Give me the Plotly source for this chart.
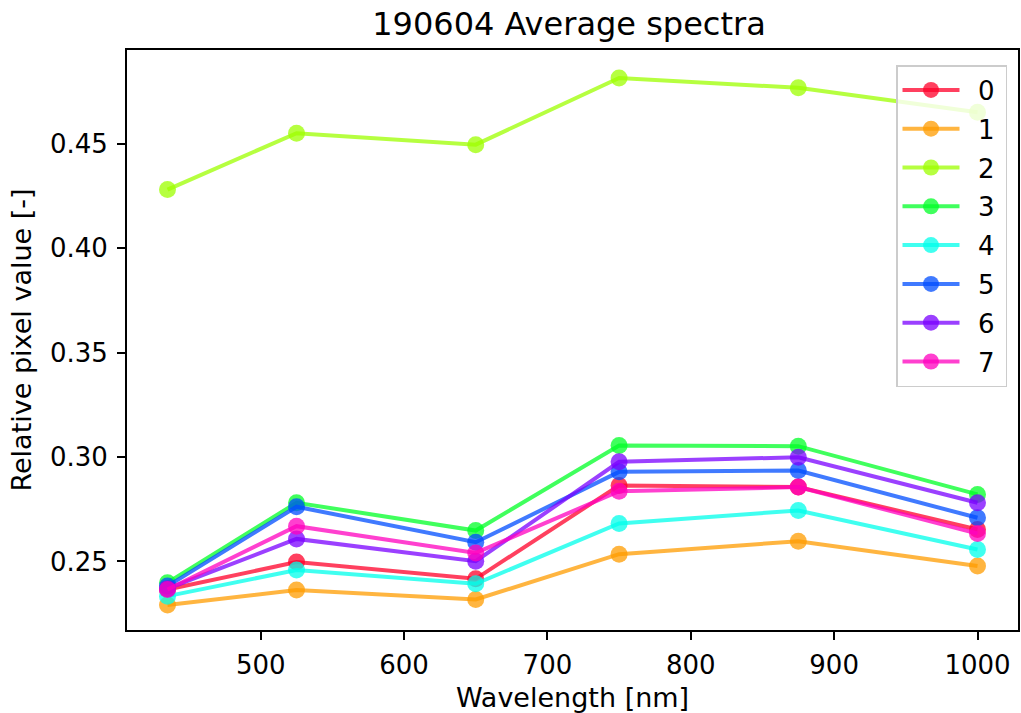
import plotly.graph_objects as go

wavelengths = [435, 525, 650, 750, 875, 1000]
labels = ["0", "1", "2", "3", "4", "5", "6", "7"]
s0 = [0.2366, 0.2497, 0.2417, 0.2864, 0.2856, 0.2653]
s1 = [0.2292, 0.2363, 0.2318, 0.2535, 0.2597, 0.2478]
s2 = [0.4280, 0.4550, 0.4495, 0.4814, 0.4767, 0.4650]
s3 = [0.2398, 0.2781, 0.2648, 0.3055, 0.3052, 0.2821]
s4 = [0.2334, 0.2459, 0.2393, 0.2682, 0.2744, 0.2557]
s5 = [0.2382, 0.2762, 0.2592, 0.2929, 0.2935, 0.2709]
s6 = [0.2370, 0.2608, 0.2501, 0.2977, 0.2999, 0.2781]
s7 = [0.2366, 0.2669, 0.2541, 0.2836, 0.2856, 0.2634]
series = [s0, s1, s2, s3, s4, s5, s6, s7]
colors = [
    "rgba(255,0,41,0.75)",
    "rgba(255,156,0,0.75)",
    "rgba(157,255,0,0.75)",
    "rgba(0,255,39,0.75)",
    "rgba(0,255,235,0.75)",
    "rgba(0,77,255,0.75)",
    "rgba(121,0,255,0.75)",
    "rgba(255,0,191,0.75)",
]
x_ticks = [500, 600, 700, 800, 900, 1000]
y_ticks = [0.25, 0.30, 0.35, 0.40, 0.45]

FONT = "DejaVu Sans"
fig = go.Figure()
for lab, ys, c in zip(labels, series, colors):
    fig.add_trace(go.Scatter(
        x=wavelengths, y=ys, name=" \u2009" + lab + "\u2009", mode="lines+markers",
        legendgroup="g" + lab,
        line=dict(color=c, width=4),
        marker=dict(color=c, size=17, line=dict(width=0)),
    ))

axis_common = dict(
    showline=True, linecolor="black", linewidth=2, mirror=True,
    ticks="outside", ticklen=8, tickwidth=2, tickcolor="black",
    showgrid=False, zeroline=False, automargin=False,
    tickfont=dict(family=FONT, size=26, color="black"),
)
W, H = 1021, 713
L, R, T, B = 127, 3, 50, 83
fig.update_layout(
    width=W, height=H,
    margin=dict(l=L, r=R, t=T, b=B),
    paper_bgcolor="white", plot_bgcolor="white",
    font=dict(family=FONT, color="black"),
    title=dict(text="190604 Average spectra", x=569 / W, xanchor="center",
               y=1 - 24 / H, yanchor="middle", yref="container",
               font=dict(family=FONT, size=32, color="black")),
    xaxis=dict(range=[406.75, 1028.25], tickvals=x_ticks, ticklabelstandoff=3,
               title=dict(text="Wavelength [nm]", font=dict(family=FONT, size=27), standoff=18),
               **axis_common),
    yaxis=dict(range=[0.2172, 0.4948], tickvals=y_ticks, tickformat=".2f", ticklabelstandoff=4,
               title=dict(text="Relative pixel value [-]", font=dict(family=FONT, size=27), standoff=10),
               **axis_common),
    legend=dict(x=(1007 - L) / (W - L - R), xanchor="right",
                y=(H - B - 65) / (H - T - B), yanchor="top",
                bgcolor="rgba(255,255,255,0.8)", bordercolor="#cccccc", borderwidth=1.5,
                tracegroupgap=2, itemwidth=57,
                font=dict(family=FONT, size=26, color="black")),
    showlegend=True,
)
fig.write_html("out.html", config={"displayModeBar": False},
               post_script="document.body.style.margin='0';")
